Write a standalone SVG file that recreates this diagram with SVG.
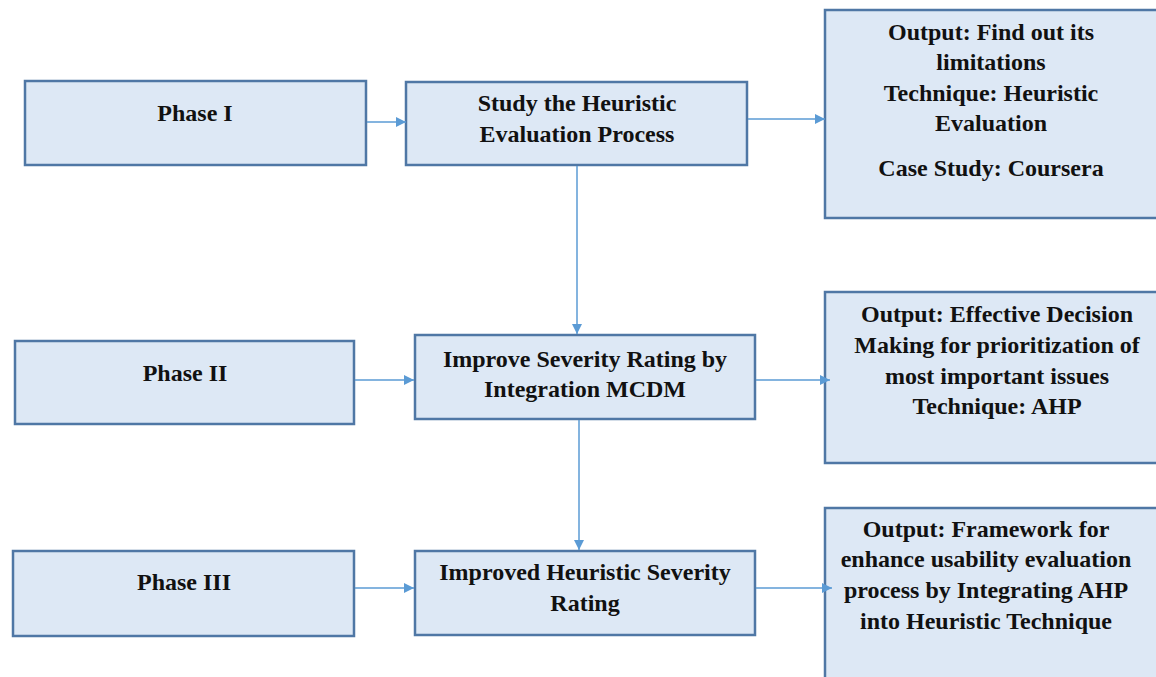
<svg xmlns="http://www.w3.org/2000/svg" width="1156" height="677" viewBox="0 0 1156 677">
  <style>
    .box { fill: #dde8f5; stroke: #4f77a5; stroke-width: 2.5; }
    .lbl { font-family: 'Liberation Serif', 'DejaVu Serif', serif; font-weight: 700; font-size: 24px; fill: #111; text-anchor: middle; }
    .conn { stroke: #5b9bd5; stroke-width: 1.5; fill: none; marker-end: url(#arrow); }
  </style>
  <defs>
    <marker id="arrow" viewBox="0 0 10 10" refX="10" refY="5" markerWidth="10" markerHeight="10" markerUnits="userSpaceOnUse" orient="auto">
      <path d="M0,0 L10,5 L0,10 z" fill="#5b9bd5"/>
    </marker>
  </defs>
  <rect width="1156" height="677" fill="#ffffff"/>

  <g id="phase1">
    <rect class="box" x="25" y="81" width="341" height="84"/>
    <text class="lbl" x="195" y="121">Phase I</text>
  </g>
  <g id="study">
    <rect class="box" x="406" y="82" width="341" height="83"/>
    <text class="lbl" x="577" y="111">Study the Heuristic</text>
    <text class="lbl" x="577" y="142">Evaluation Process</text>
  </g>
  <g id="output1">
    <rect class="box" x="825" y="10" width="345" height="208"/>
    <text class="lbl" x="991" y="40">Output: Find out its</text>
    <text class="lbl" x="991" y="70">limitations</text>
    <text class="lbl" x="991" y="101">Technique: Heuristic</text>
    <text class="lbl" x="991" y="131">Evaluation</text>
    <text class="lbl" x="991" y="176">Case Study: Coursera</text>
  </g>

  <g id="phase2">
    <rect class="box" x="15" y="341" width="339" height="83"/>
    <text class="lbl" x="185" y="381">Phase II</text>
  </g>
  <g id="improve">
    <rect class="box" x="415" y="335" width="340" height="84"/>
    <text class="lbl" x="585" y="367">Improve Severity Rating by</text>
    <text class="lbl" x="585" y="397">Integration MCDM</text>
  </g>
  <g id="output2">
    <rect class="box" x="825" y="292" width="345" height="171"/>
    <text class="lbl" x="997" y="322">Output: Effective Decision</text>
    <text class="lbl" x="997" y="353">Making for prioritization of</text>
    <text class="lbl" x="997" y="384">most important issues</text>
    <text class="lbl" x="997" y="414">Technique: AHP</text>
  </g>

  <g id="phase3">
    <rect class="box" x="13" y="551" width="341" height="85"/>
    <text class="lbl" x="184" y="590">Phase III</text>
  </g>
  <g id="improved">
    <rect class="box" x="415" y="551" width="340" height="84"/>
    <text class="lbl" x="585" y="580">Improved Heuristic Severity</text>
    <text class="lbl" x="585" y="611">Rating</text>
  </g>
  <g id="output3">
    <rect class="box" x="825" y="508" width="345" height="190"/>
    <text class="lbl" x="986" y="537">Output: Framework for</text>
    <text class="lbl" x="986" y="567">enhance usability evaluation</text>
    <text class="lbl" x="986" y="598">process by Integrating AHP</text>
    <text class="lbl" x="986" y="629">into Heuristic Technique</text>
  </g>

  <!-- connectors drawn last so arrowheads sit on top of the box borders -->
  <g id="connectors">
    <line class="conn" x1="367" y1="122" x2="406" y2="122"/>
    <line class="conn" x1="748" y1="119" x2="825" y2="119"/>
    <line class="conn" x1="577" y1="166" x2="577" y2="334"/>
    <line class="conn" x1="355" y1="380" x2="414" y2="380"/>
    <line class="conn" x1="756" y1="380" x2="830" y2="380"/>
    <line class="conn" x1="579" y1="420" x2="579" y2="550"/>
    <line class="conn" x1="355" y1="588" x2="414" y2="588"/>
    <line class="conn" x1="756" y1="588" x2="832" y2="588"/>
  </g>
</svg>
